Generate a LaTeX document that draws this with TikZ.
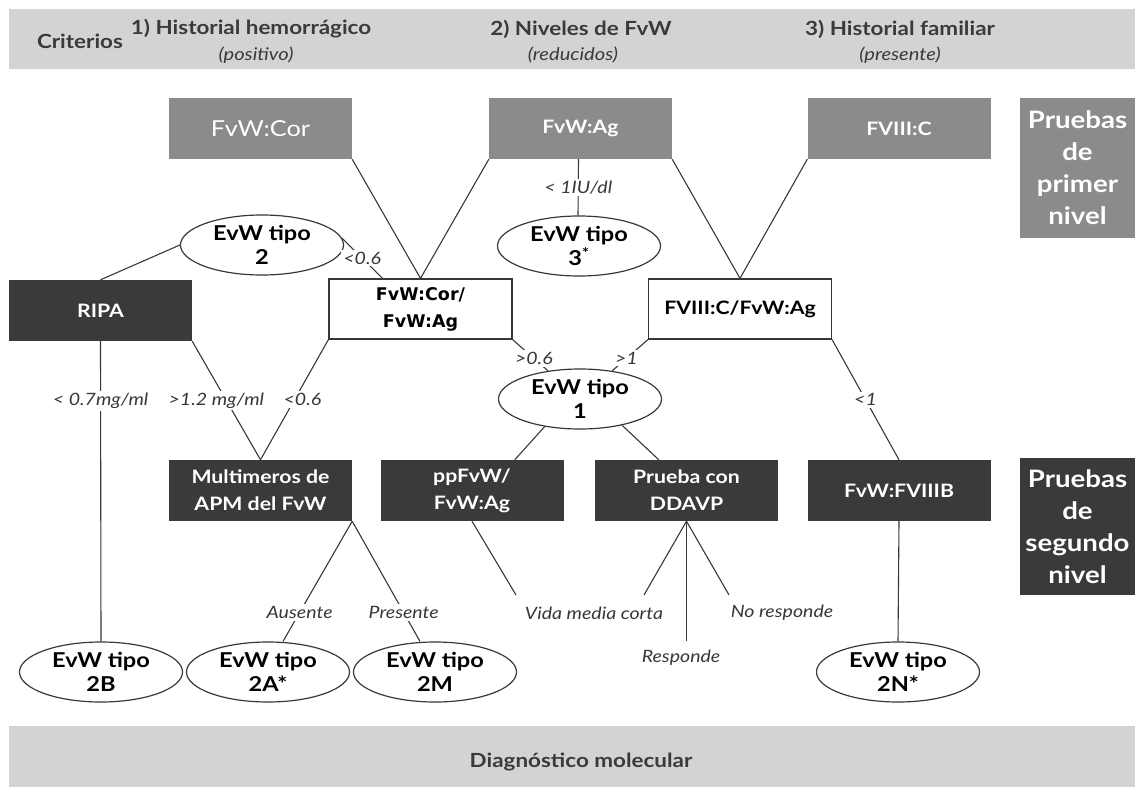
\documentclass[tikz,border=0pt]{standalone}
\usepackage{fontspec}
\setmainfont{Lato}[FakeStretch=1.15]
\newfontfamily\cocfont{DejaVu Sans}
\usetikzlibrary{shapes.geometric}
\definecolor{banda}{HTML}{D3D3D5}
\definecolor{gris}{HTML}{8B8B8D}
\definecolor{oscuro}{HTML}{3A393B}
\definecolor{linea}{HTML}{383838}
\begin{document}
\begin{tikzpicture}[x=1pt,y=-1pt,
	caja/.style={minimum width=183pt,minimum height=61pt,inner sep=0pt,align=center,
		font=\fontsize{18.5}{27}\selectfont\bfseries},
	prim/.style={caja,fill=gris,text=white},
	seg/.style={caja,fill=oscuro,text=white},
	coc/.style={caja,draw=linea,line width=1.2pt,fill=white,minimum height=60pt},
	tipo/.style={ellipse,draw=linea,line width=1.2pt,minimum width=163pt,minimum height=60pt,
		inner sep=0pt,align=center,font=\fontsize{20.5}{24}\selectfont\bfseries},
	nivel/.style={minimum width=115pt,inner sep=0pt,text=white,align=center,
		font=\fontsize{24}{32}\selectfont\bfseries},
	etiq/.style={fill=white,inner sep=2pt,text=linea,font=\fontsize{17}{19}\selectfont\itshape},
	enc/.style={text=oscuro,font=\fontsize{19.5}{22}\selectfont\bfseries},
	sub/.style={text=oscuro,font=\fontsize{17.5}{20}\selectfont\itshape},
	rama/.style={draw=linea,line width=1.1pt}]

	\useasboundingbox (0,0) rectangle (1135,787);

	% Bandas
	\fill[banda] (9,9) rectangle (1135,69);
	\fill[banda] (9,726) rectangle (1135,787);

	% Criterios
	\node[enc] (crit) at (80,41) {Criterios};
	\node[enc] (c1) at (251,29) {1) Historial hemorrágico};
	\node[sub] (c1s) at (256,55) {(positivo)};
	\node[enc] (c2) at (581,29) {2) Niveles de FvW};
	\node[sub] (c2s) at (573,55) {(reducidos)};
	\node[enc] (c3) at (900,29) {3) Historial familiar};
	\node[sub] (c3s) at (900,55) {(presente)};
	\node[enc] (diag) at (581,762) {Diagnóstico molecular};

	% Pruebas de primer nivel
	\node[prim,font=\fontsize{22}{27}\selectfont] (fvwcor) at (260.5,128.5) {FvW:Cor};
	\node[prim] (fvwag) at (580.5,128.5) {FvW:Ag};
	\node[prim] (fviiic) at (899,128.5) {FVIII:C};
	\node[nivel,fill=gris,minimum height=140pt] (niv1) at (1077.5,168) {Pruebas\\de\\primer\\nivel};

	% Cocientes
	\node[coc,text=black,font=\cocfont\fontsize{17.5}{27}\selectfont\bfseries] (coc1) at (420.5,309) {FvW:Cor/\\FvW:Ag};
	\node[coc,text=black] (coc2) at (740,309) {FVIII:C/FvW:Ag};
	\node[seg] (ripa) at (100.5,310.5) {RIPA};

	% Tipos
	\node[tipo] (t2) at (262,245) {EvW tipo\\2};
	\node[tipo] (t3) at (579,246) {EvW tipo\\3\textsuperscript{*}};
	\node[tipo] (t1) at (580,399) {EvW tipo\\1};

	% Pruebas de segundo nivel
	\node[seg] (multi) at (260.5,490.5) {Multimeros de\\APM del FvW};
	\node[seg] (ppfvw) at (472,490.5) {ppFvW/\\FvW:Ag};
	\node[seg] (ddavp) at (686.5,490.5) {Prueba con\\DDAVP};
	\node[seg] (fviiib) at (899,490.5) {FvW:FVIIIB};
	\node[nivel,fill=oscuro,minimum height=137pt] (niv2) at (1077.5,526.5) {Pruebas\\de\\segundo\\nivel};

	% Resultados
	\node[tipo] (t2b) at (101,672) {EvW tipo\\2B};
	\node[tipo] (t2a) at (268,672) {EvW tipo\\2A*};
	\node[tipo] (t2m) at (435,672) {EvW tipo\\2M};
	\node[tipo] (t2n) at (898,672) {EvW tipo\\2N*};

	% Etiquetas libres
	\node[etiq] (vida) at (594,613) {Vida media corta};
	\node[etiq] (resp) at (681,658) {Responde};
	\node[etiq] (nores) at (782,613) {No responde};
	\coordinate (vidaL) at (516,595);
	\coordinate (vidaR) at (644,595);
	\coordinate (respC) at (686.5,641);
	\coordinate (noresC) at (729,595);

	% Ramas primer nivel
	\draw[rama] (fvwcor.south east) -- (coc1.north);
	\draw[rama] (fvwag.south west) -- (coc1.north);
	\draw[rama] (fvwag.south east) -- (coc2.north);
	\draw[rama] (fviiic.south west) -- (coc2.north);
	\draw[rama] ([xshift=-2pt]fvwag.south) -- ([xshift=-1pt]t3.north) node[etiq,pos=.5] {< 1IU/dl};

	% Ramas de los cocientes
	\draw[rama] (t2.5) -- ([xshift=-38pt]coc1.north) node[etiq,pos=.5] {<0.6};
	\draw[rama] (ripa.north) -- (t2.west);
	\draw[rama] (coc1.south west) -- (multi.north) node[etiq,pos=.5,xshift=8pt] {<0.6};
	\draw[rama] (coc1.south east) -- (t1) node[etiq,pos=.6] {>0.6};
	\draw[rama] (coc2.south west) -- (t1) node[etiq,pos=.6] {>1};
	\draw[rama] (coc2.south east) -- (fviiib.north) node[etiq,pos=.5] {<1};

	% Ramas RIPA
	\draw[rama] (ripa.south) -- (t2b.north) node[etiq,pos=.2] {< 0.7mg/ml};
	\draw[rama] (ripa.south east) -- (multi.north) node[etiq,pos=.5,xshift=-10pt] {>1.2 mg/ml};

	% Ramas segundo nivel
	\draw[rama] (t1.218) -- ([xshift=-49pt]ppfvw.north east);
	\draw[rama] (t1.-32) -- ([xshift=64pt]ddavp.north west);
	\draw[rama] (multi.south east) -- ([xshift=15pt]t2a.north) node[etiq,pos=.76] {Ausente};
	\draw[rama] (multi.south east) -- ([xshift=-15pt]t2m.north) node[etiq,pos=.76] {Presente};
	\draw[rama] (ppfvw.south) -- (vidaL);
	\draw[rama] (ddavp.south) -- (vidaR);
	\draw[rama] (ddavp.south) -- (respC);
	\draw[rama] (ddavp.south) -- (noresC);
	\draw[rama] (fviiib.south) -- (t2n.north);

\end{tikzpicture}
\end{document}
